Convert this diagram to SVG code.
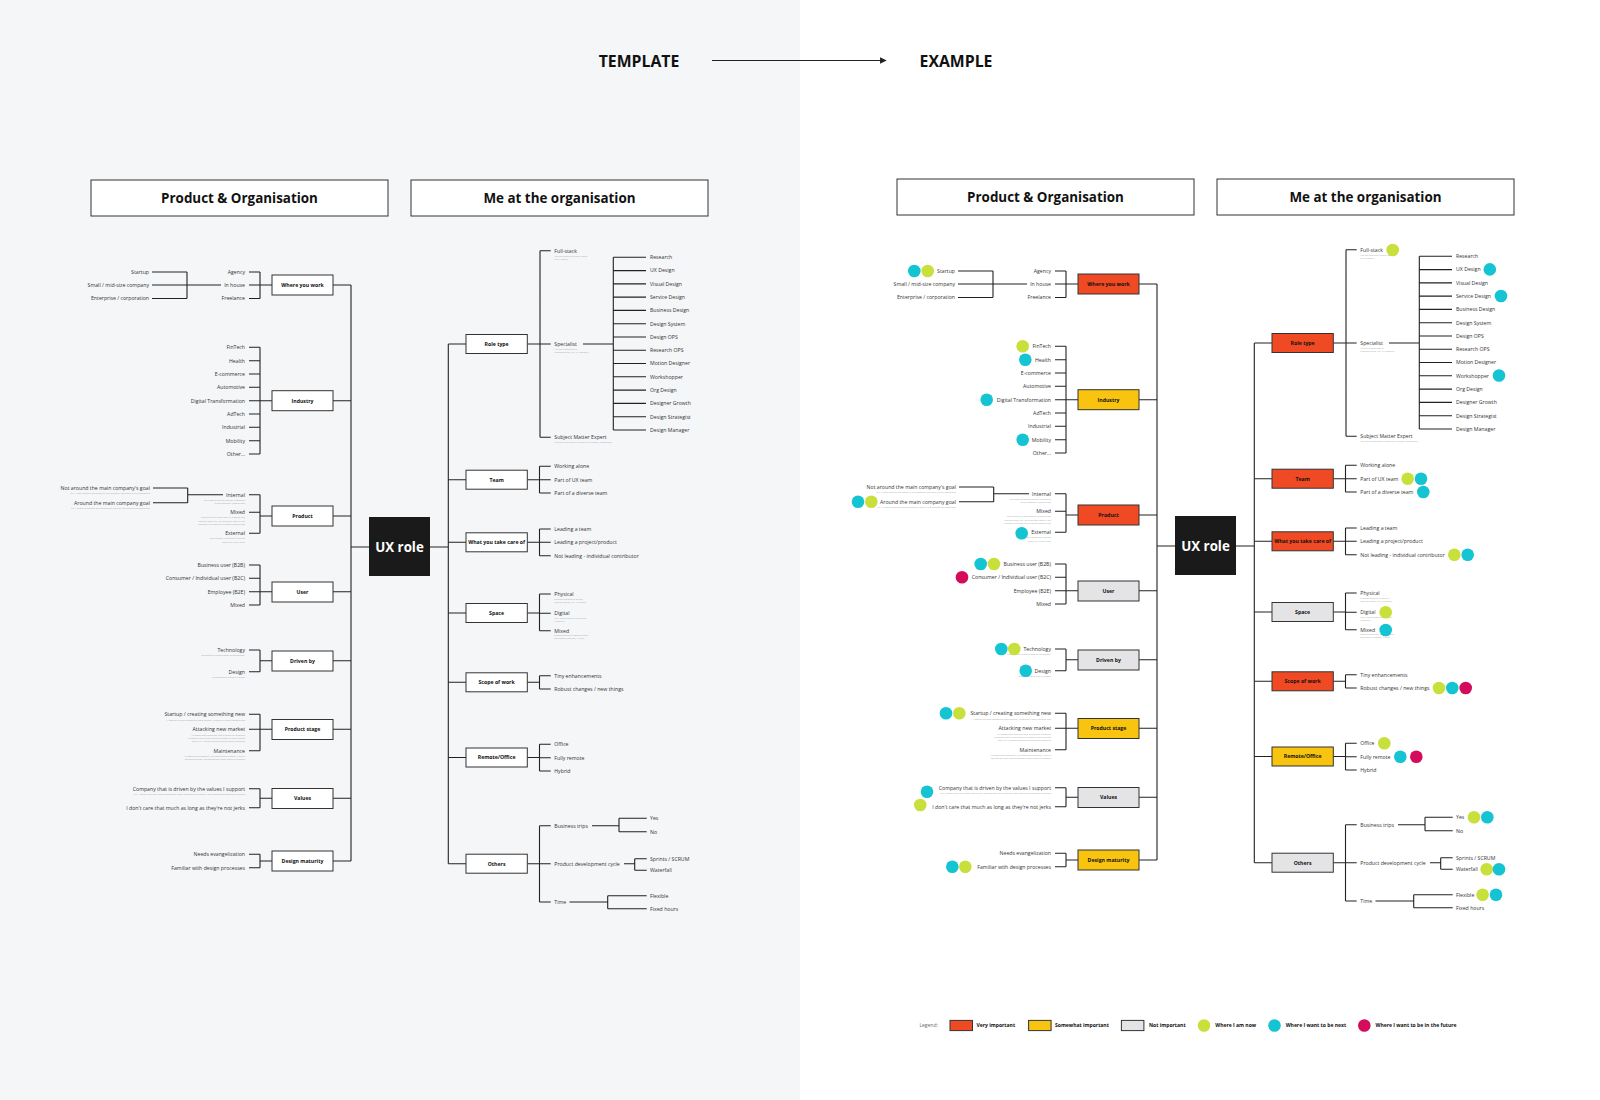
<svg xmlns="http://www.w3.org/2000/svg" width="1600" height="1100" viewBox="0 0 1600 1100">
<defs>
<style>
.t{font-family:"Open Sans","Liberation Sans",sans-serif;font-size:5.2px;fill:#333}
.e{text-anchor:end}
.s{font-family:"Open Sans","Liberation Sans",sans-serif;font-size:2.3px;fill:#a8a8a8}
.bl{font-family:"Open Sans","Liberation Sans",sans-serif;font-size:5.2px;font-weight:700;fill:#111;text-anchor:middle}
.hd{font-family:"Open Sans","Liberation Sans",sans-serif;font-size:13.4px;font-weight:700;fill:#111;text-anchor:middle}
.ti{font-family:"Open Sans","Liberation Sans",sans-serif;font-size:15.8px;font-weight:700;fill:#111;text-anchor:middle}
.ux{font-family:"Open Sans","Liberation Sans",sans-serif;font-size:13.3px;font-weight:700;fill:#fff;text-anchor:middle}
.box{fill:#fff;stroke:#333;stroke-width:1}
.red{fill:#f04a24}.yel{fill:#f8c40f}.gry{fill:#e4e4e6}
.ln{stroke:#222;stroke-width:1.1;fill:none}
.cy{fill:#14c4d2}.li{fill:#c9df3b}.mg{fill:#d50c5c}
.lg{font-family:"Open Sans","Liberation Sans",sans-serif;font-size:5.05px;font-weight:700;fill:#111}
</style>
<marker id="ah" viewBox="0 0 10 10" refX="9" refY="5" markerWidth="6" markerHeight="6" orient="auto"><path d="M0,0 L10,5 L0,10 z" fill="#222"/></marker>
</defs>
<rect x="0" y="0" width="1600" height="1100" fill="#fff"/>
<rect x="0" y="0" width="800" height="1100" fill="#f5f6f8"/>

<g id="titles">
<text class="ti" x="639" y="66.5">TEMPLATE</text>
<text class="ti" x="956" y="66.5">EXAMPLE</text>
<path class="ln" d="M712,60.5 H886" marker-end="url(#ah)"/>
</g>

<!-- ================= TEMPLATE ================= -->
<g id="template">
<g id="t-connectors">
<path class="ln" d="M249,272H260M249,285H260M249,298.5H260M260,272V298.5M260,285H272M152,272H187M152,285H187M152,298.5H187M187,272V298.5M187,285H221M333,285H351"/>
<path class="ln" d="M249,347.3H260M249,360.7H260M249,374H260M249,387.3H260M249,400.7H260M249,414H260M249,427.3H260M249,440.7H260M249,454H260M260,347.3V454M260,400.7H272M333,400.7H351"/>
<path class="ln" d="M249,494.7H260M249,512.3H260M249,533.3H260M260,494.7V533.3M260,516H272M333,516H351M153,488H187.7M153,502.7H187.7M187.7,488V502.7M187.7,494.7H223"/>
<path class="ln" d="M249,565H260M249,578.3H260M249,591.7H260M249,605H260M260,565V605M260,591.7H272M333,591.7H351"/>
<path class="ln" d="M249,650H260M249,671.7H260M260,650V671.7M260,660.7H272M333,660.7H351"/>
<path class="ln" d="M249,714.3H260M249,729.3H260M249,750.7H260M260,714.3V750.7M260,729.3H272M333,729.3H351"/>
<path class="ln" d="M249,788.7H260M249,807.7H260M260,788.7V807.7M260,798.3H272M333,798.3H351"/>
<path class="ln" d="M249,854.3H260M249,867.7H260M260,854.3V867.7M260,861H272M333,861H351"/>
<path class="ln" d="M351,285V861M351,547H369M430,547H448.3M448.3,344V863.7"/>
<path class="ln" d="M448.3,344H466M527.3,344H540M540,250.7V437.3M540,250.7H550.7M540,344H550.7M540,437.3H550.7M583,344H613.3M613.3,257.3V430M613.3,257.3H646M613.3,270.6H646M613.3,283.9H646M613.3,297.1H646M613.3,310.4H646M613.3,323.7H646M613.3,337H646M613.3,350.3H646M613.3,363.5H646M613.3,376.8H646M613.3,390.1H646M613.3,403.4H646M613.3,416.7H646M613.3,430H646"/>
<path class="ln" d="M448.3,479.7H466M527.3,479.7H539.5M539.5,466.3V493M539.5,466.3H550.7M539.5,479.7H550.7M539.5,493H550.7"/>
<path class="ln" d="M448.3,542.3H466M527.3,542.3H539.5M539.5,529V555.7M539.5,529H550.7M539.5,542.3H550.7M539.5,555.7H550.7"/>
<path class="ln" d="M448.3,613H466M527.3,613H539.5M539.5,594V630.7M539.5,594H550.7M539.5,613.3H550.7M539.5,630.7H550.7"/>
<path class="ln" d="M448.3,682.3H466M527.3,682.3H539.5M539.5,675.7V689M539.5,675.7H550.7M539.5,689H550.7"/>
<path class="ln" d="M448.3,757.5H466M527.3,757.5H539.5M539.5,744.3V771M539.5,744.3H550.7M539.5,757.7H550.7M539.5,771H550.7"/>
<path class="ln" d="M448.3,863.7H466M527.3,863.7H539.5M539.5,825.7V902M539.5,825.7H550.7M539.5,863.7H550.7M539.5,902H550.7M592,825.7H619M619,818.3V831.7M619,818.3H646.7M619,831.7H646.7M624,863.7H634.7M634.7,858.7V870.3M634.7,858.7H646.7M634.7,870.3H646.7M569.5,902H607.7M607.7,895.7V908.7M607.7,895.7H646.7M607.7,908.7H646.7"/>
</g>

<g id="t-hdr-product"><rect class="box" x="91" y="180" width="297" height="36"/><text class="hd" x="239.5" y="202.8">Product &amp; Organisation</text></g>
<g id="t-hdr-me"><rect class="box" x="411" y="180" width="297" height="36"/><text class="hd" x="559.5" y="202.8">Me at the organisation</text></g>

<g id="t-uxrole"><rect x="369" y="517" width="61" height="59" fill="#1a1a1a"/><text class="ux" x="399.5" y="551.8">UX role</text></g>

<g id="t-where"><rect class="box" x="272" y="275" width="61" height="20"/><text class="bl" x="302.5" y="286.8">Where you work</text></g>
<g id="t-where-items">
<text class="t e" x="245" y="273.8">Agency</text><text class="t e" x="245" y="286.8">In house</text><text class="t e" x="245" y="300.3">Freelance</text>
<text class="t e" x="149" y="273.8">Startup</text><text class="t e" x="149" y="286.8">Small / mid-size company</text><text class="t e" x="149" y="300.3">Enterprise / corporation</text>
</g>
<g id="t-industry"><rect class="box" x="272" y="390.7" width="61" height="20"/><text class="bl" x="302.5" y="402.5">Industry</text></g>
<g id="t-industry-items">
<text class="t e" x="245" y="349.1">FinTech</text><text class="t e" x="245" y="362.5">Health</text><text class="t e" x="245" y="375.8">E-commerce</text><text class="t e" x="245" y="389.1">Automotive</text><text class="t e" x="245" y="402.5">Digital Transformation</text><text class="t e" x="245" y="415.8">AdTech</text><text class="t e" x="245" y="429.1">Industrial</text><text class="t e" x="245" y="442.5">Mobility</text><text class="t e" x="245" y="455.8">Other...</text>
</g>
<g id="t-product"><rect class="box" x="272" y="506" width="61" height="20"/><text class="bl" x="302.5" y="517.8">Product</text></g>
<g id="t-product-items">
<text class="t e" x="150" y="489.8">Not around the main company's goal</text><text class="s e" x="150" y="494.2">E.g. A time tracking app made by the company and used by the employees</text>
<text class="t e" x="150" y="504.5">Around the main company goal</text><text class="s e" x="150" y="508.8">E.g. An app to manage the warehouse, used by the warehouse employees</text>
<text class="t e" x="245" y="496.5">Internal</text><text class="s e" x="245" y="500.9">The product serves internal customers</text><text class="s e" x="245" y="503.9">of the company (employees)</text>
<text class="t e" x="245" y="514.1">Mixed</text><text class="s e" x="245" y="518.4">The product is used both by external and</text><text class="s e" x="245" y="521.7">internal users. E.g. an audit app used by the</text><text class="s e" x="245" y="525">company's clients and auditors (employees)</text>
<text class="t e" x="245" y="535.1">External</text><text class="s e" x="245" y="539.4">The product is made for external</text><text class="s e" x="245" y="542.7">users. E.g. Uber, Slack</text>
</g>
<g id="t-user"><rect class="box" x="272" y="582" width="61" height="20"/><text class="bl" x="302.5" y="593.5">User</text></g>
<g id="t-user-items">
<text class="t e" x="245" y="566.8">Business user (B2B)</text><text class="t e" x="245" y="580.1">Consumer / Individual user (B2C)</text><text class="t e" x="245" y="593.5">Employee (B2E)</text><text class="t e" x="245" y="606.8">Mixed</text>
</g>
<g id="t-driven"><rect class="box" x="272" y="651" width="61" height="20"/><text class="bl" x="302.5" y="662.5">Driven by</text></g>
<g id="t-driven-items">
<text class="t e" x="245" y="651.8">Technology</text><text class="s e" x="245" y="656.4">Decisions are made based on technology</text>
<text class="t e" x="245" y="673.5">Design</text><text class="s e" x="245" y="677.7">Decisions are driven by design</text>
</g>
<g id="t-stage"><rect class="box" x="272" y="719.5" width="61" height="20"/><text class="bl" x="302.5" y="731.1">Product stage</text></g>
<g id="t-stage-items">
<text class="t e" x="245" y="716.1">Startup / creating something new</text><text class="s e" x="245" y="720.7">A startup building something from scratch, exploring a new business idea</text>
<text class="t e" x="245" y="731.1">Attacking new market</text><text class="s e" x="245" y="735.7">An established company that is about to introduce</text><text class="s e" x="245" y="739">a product into a new market or adopt a new business</text><text class="s e" x="245" y="742.3">area. E.g. Amazon introducing self-serve groceries</text>
<text class="t e" x="245" y="752.5">Maintenance</text><text class="s e" x="245" y="757.1">An established company, an established product. Work is</text><text class="s e" x="245" y="760.4">focused on small improvements rather than big changes</text>
</g>
<g id="t-values"><rect class="box" x="272" y="788.5" width="61" height="20"/><text class="bl" x="302.5" y="800.1">Values</text></g>
<g id="t-values-items">
<text class="t e" x="245" y="790.5">Company that is driven by the values I support</text><text class="s e" x="245" y="794.6">E.g. I deeply care for climate issues and I want to work at a company that introduces ecological products</text>
<text class="t e" x="245" y="809.5">I don't care that much as long as they're not jerks</text>
</g>
<g id="t-maturity"><rect class="box" x="272" y="851" width="61" height="20"/><text class="bl" x="302.5" y="862.8">Design maturity</text></g>
<g id="t-maturity-items">
<text class="t e" x="245" y="856.1">Needs evangelization</text><text class="t e" x="245" y="869.5">Familiar with design processes</text>
</g>

<g id="t-role"><rect class="box" x="466" y="334.5" width="61.3" height="19"/><text class="bl" x="496.6" y="345.8">Role type</text></g>
<g id="t-role-items">
<text class="t" x="554.3" y="252.5">Full-stack</text><text class="s" x="554.3" y="257.1">You get involved in every stage</text><text class="s" x="554.3" y="259.9">of UX design</text>
<text class="t" x="554.3" y="345.8">Specialist</text><text class="s" x="554.3" y="349.9">You are a specialist in</text><text class="s" x="554.3" y="352.7">a focused area, e.g. UX research</text>
<text class="t" x="554.3" y="439.1">Subject Matter Expert</text><text class="s" x="554.3" y="442.9">You are a specialist in a topic (e.g. finance, healthcare)</text>
<text class="t" x="650" y="259.1">Research</text><text class="t" x="650" y="272.4">UX Design</text><text class="t" x="650" y="285.7">Visual Design</text><text class="t" x="650" y="298.9">Service Design</text><text class="t" x="650" y="312.2">Business Design</text><text class="t" x="650" y="325.5">Design System</text><text class="t" x="650" y="338.8">Design OPS</text><text class="t" x="650" y="352.1">Research OPS</text><text class="t" x="650" y="365.3">Motion Designer</text><text class="t" x="650" y="378.6">Workshopper</text><text class="t" x="650" y="391.9">Org Design</text><text class="t" x="650" y="405.2">Designer Growth</text><text class="t" x="650" y="418.5">Design Strategist</text><text class="t" x="650" y="431.8">Design Manager</text>
</g>
<g id="t-team"><rect class="box" x="466" y="470.2" width="61.3" height="19"/><text class="bl" x="496.6" y="481.5">Team</text></g>
<g id="t-team-items"><text class="t" x="554.3" y="468.1">Working alone</text><text class="t" x="554.3" y="481.5">Part of UX team</text><text class="t" x="554.3" y="494.8">Part of a diverse team</text></g>
<g id="t-care"><rect class="box" x="466" y="532.8" width="61.3" height="19"/><text class="bl" x="496.6" y="544.1">What you take care of</text></g>
<g id="t-care-items"><text class="t" x="554.3" y="530.8">Leading a team</text><text class="t" x="554.3" y="544.1">Leading a project/product</text><text class="t" x="554.3" y="557.5">Not leading - individual contributor</text></g>
<g id="t-space"><rect class="box" x="466" y="603.5" width="61.3" height="19"/><text class="bl" x="496.6" y="614.8">Space</text></g>
<g id="t-space-items">
<text class="t" x="554.3" y="595.8">Physical</text><text class="s" x="554.3" y="599.6">Physical product or service</text><text class="s" x="554.3" y="602.5">(service design, e.g. in a hotel)</text>
<text class="t" x="554.3" y="615.1">Digital</text><text class="s" x="554.3" y="618.7">Fully digital product or service</text><text class="s" x="554.3" y="621.6">(Youtube)</text>
<text class="t" x="554.3" y="632.5">Mixed</text><text class="s" x="554.3" y="636.1">Product/service is both physical</text><text class="s" x="554.3" y="639">and digital (Lifesum, Airbnb)</text>
</g>
<g id="t-scope"><rect class="box" x="466" y="672.8" width="61.3" height="19"/><text class="bl" x="496.6" y="684.1">Scope of work</text></g>
<g id="t-scope-items"><text class="t" x="554.3" y="677.5">Tiny enhancements</text><text class="t" x="554.3" y="690.8">Robust changes / new things</text></g>
<g id="t-remote"><rect class="box" x="466" y="748" width="61.3" height="19"/><text class="bl" x="496.6" y="759.3">Remote/Office</text></g>
<g id="t-remote-items"><text class="t" x="554.3" y="746.1">Office</text><text class="t" x="554.3" y="759.5">Fully remote</text><text class="t" x="554.3" y="772.8">Hybrid</text></g>
<g id="t-others"><rect class="box" x="466" y="854.2" width="61.3" height="19"/><text class="bl" x="496.6" y="865.5">Others</text></g>
<g id="t-others-items">
<text class="t" x="554.3" y="827.5">Business trips</text><text class="t" x="554.3" y="865.5">Product development cycle</text><text class="t" x="554.3" y="903.8">Time</text>
<text class="t" x="650" y="820.1">Yes</text><text class="t" x="650" y="833.5">No</text><text class="t" x="650" y="860.5">Sprints / SCRUM</text><text class="t" x="650" y="872.1">Waterfall</text><text class="t" x="650" y="897.5">Flexible</text><text class="t" x="650" y="910.5">Fixed hours</text>
</g>
</g>

<!-- ================= EXAMPLE ================= -->
<g id="example" transform="translate(806,-1)">
<g id="e-connectors">
<path class="ln" d="M249,272H260M249,285H260M249,298.5H260M260,272V298.5M260,285H272M152,272H187M152,285H187M152,298.5H187M187,272V298.5M187,285H221M333,285H351"/>
<path class="ln" d="M249,347.3H260M249,360.7H260M249,374H260M249,387.3H260M249,400.7H260M249,414H260M249,427.3H260M249,440.7H260M249,454H260M260,347.3V454M260,400.7H272M333,400.7H351"/>
<path class="ln" d="M249,494.7H260M249,512.3H260M249,533.3H260M260,494.7V533.3M260,516H272M333,516H351M153,488H187.7M153,502.7H187.7M187.7,488V502.7M187.7,494.7H223"/>
<path class="ln" d="M249,565H260M249,578.3H260M249,591.7H260M249,605H260M260,565V605M260,591.7H272M333,591.7H351"/>
<path class="ln" d="M249,650H260M249,671.7H260M260,650V671.7M260,660.7H272M333,660.7H351"/>
<path class="ln" d="M249,714.3H260M249,729.3H260M249,750.7H260M260,714.3V750.7M260,729.3H272M333,729.3H351"/>
<path class="ln" d="M249,788.7H260M249,807.7H260M260,788.7V807.7M260,798.3H272M333,798.3H351"/>
<path class="ln" d="M249,854.3H260M249,867.7H260M260,854.3V867.7M260,861H272M333,861H351"/>
<path class="ln" d="M351,285V861M351,547H369M430,547H448.3M448.3,344V863.7"/>
<path class="ln" d="M448.3,344H466M527.3,344H540M540,250.7V437.3M540,250.7H550.7M540,344H550.7M540,437.3H550.7M583,344H613.3M613.3,257.3V430M613.3,257.3H646M613.3,270.6H646M613.3,283.9H646M613.3,297.1H646M613.3,310.4H646M613.3,323.7H646M613.3,337H646M613.3,350.3H646M613.3,363.5H646M613.3,376.8H646M613.3,390.1H646M613.3,403.4H646M613.3,416.7H646M613.3,430H646"/>
<path class="ln" d="M448.3,479.7H466M527.3,479.7H539.5M539.5,466.3V493M539.5,466.3H550.7M539.5,479.7H550.7M539.5,493H550.7"/>
<path class="ln" d="M448.3,542.3H466M527.3,542.3H539.5M539.5,529V555.7M539.5,529H550.7M539.5,542.3H550.7M539.5,555.7H550.7"/>
<path class="ln" d="M448.3,613H466M527.3,613H539.5M539.5,594V630.7M539.5,594H550.7M539.5,613.3H550.7M539.5,630.7H550.7"/>
<path class="ln" d="M448.3,682.3H466M527.3,682.3H539.5M539.5,675.7V689M539.5,675.7H550.7M539.5,689H550.7"/>
<path class="ln" d="M448.3,757.5H466M527.3,757.5H539.5M539.5,744.3V771M539.5,744.3H550.7M539.5,757.7H550.7M539.5,771H550.7"/>
<path class="ln" d="M448.3,863.7H466M527.3,863.7H539.5M539.5,825.7V902M539.5,825.7H550.7M539.5,863.7H550.7M539.5,902H550.7M592,825.7H619M619,818.3V831.7M619,818.3H646.7M619,831.7H646.7M624,863.7H634.7M634.7,858.7V870.3M634.7,858.7H646.7M634.7,870.3H646.7M569.5,902H607.7M607.7,895.7V908.7M607.7,895.7H646.7M607.7,908.7H646.7"/>
</g>

<g id="e-hdr-product"><rect class="box" x="91" y="180" width="297" height="36"/><text class="hd" x="239.5" y="202.8">Product &amp; Organisation</text></g>
<g id="e-hdr-me"><rect class="box" x="411" y="180" width="297" height="36"/><text class="hd" x="559.5" y="202.8">Me at the organisation</text></g>

<g id="e-uxrole"><rect x="369" y="517" width="61" height="59" fill="#1a1a1a"/><text class="ux" x="399.5" y="551.8">UX role</text></g>

<g id="e-where"><rect class="box red" x="272" y="275" width="61" height="20"/><text class="bl" x="302.5" y="286.8">Where you work</text></g>
<g id="e-where-items">
<text class="t e" x="245" y="273.8">Agency</text><text class="t e" x="245" y="286.8">In house</text><text class="t e" x="245" y="300.3">Freelance</text>
<text class="t e" x="149" y="273.8">Startup</text><text class="t e" x="149" y="286.8">Small / mid-size company</text><text class="t e" x="149" y="300.3">Enterprise / corporation</text>
</g>
<g id="e-industry"><rect class="box yel" x="272" y="390.7" width="61" height="20"/><text class="bl" x="302.5" y="402.5">Industry</text></g>
<g id="e-industry-items">
<text class="t e" x="245" y="349.1">FinTech</text><text class="t e" x="245" y="362.5">Health</text><text class="t e" x="245" y="375.8">E-commerce</text><text class="t e" x="245" y="389.1">Automotive</text><text class="t e" x="245" y="402.5">Digital Transformation</text><text class="t e" x="245" y="415.8">AdTech</text><text class="t e" x="245" y="429.1">Industrial</text><text class="t e" x="245" y="442.5">Mobility</text><text class="t e" x="245" y="455.8">Other...</text>
</g>
<g id="e-product"><rect class="box red" x="272" y="506" width="61" height="20"/><text class="bl" x="302.5" y="517.8">Product</text></g>
<g id="e-product-items">
<text class="t e" x="150" y="489.8">Not around the main company's goal</text><text class="s e" x="150" y="494.2">E.g. A time tracking app made by the company and used by the employees</text>
<text class="t e" x="150" y="504.5">Around the main company goal</text><text class="s e" x="150" y="508.8">E.g. An app to manage the warehouse, used by the warehouse employees</text>
<text class="t e" x="245" y="496.5">Internal</text><text class="s e" x="245" y="500.9">The product serves internal customers</text><text class="s e" x="245" y="503.9">of the company (employees)</text>
<text class="t e" x="245" y="514.1">Mixed</text><text class="s e" x="245" y="518.4">The product is used both by external and</text><text class="s e" x="245" y="521.7">internal users. E.g. an audit app used by the</text><text class="s e" x="245" y="525">company's clients and auditors (employees)</text>
<text class="t e" x="245" y="535.1">External</text><text class="s e" x="245" y="539.4">The product is made for external</text><text class="s e" x="245" y="542.7">users. E.g. Uber, Slack</text>
</g>
<g id="e-user"><rect class="box gry" x="272" y="582" width="61" height="20"/><text class="bl" x="302.5" y="593.5">User</text></g>
<g id="e-user-items">
<text class="t e" x="245" y="566.8">Business user (B2B)</text><text class="t e" x="245" y="580.1">Consumer / Individual user (B2C)</text><text class="t e" x="245" y="593.5">Employee (B2E)</text><text class="t e" x="245" y="606.8">Mixed</text>
</g>
<g id="e-driven"><rect class="box gry" x="272" y="651" width="61" height="20"/><text class="bl" x="302.5" y="662.5">Driven by</text></g>
<g id="e-driven-items">
<text class="t e" x="245" y="651.8">Technology</text><text class="s e" x="245" y="656.4">Decisions are made based on technology</text>
<text class="t e" x="245" y="673.5">Design</text><text class="s e" x="245" y="677.7">Decisions are driven by design</text>
</g>
<g id="e-stage"><rect class="box yel" x="272" y="719.5" width="61" height="20"/><text class="bl" x="302.5" y="731.1">Product stage</text></g>
<g id="e-stage-items">
<text class="t e" x="245" y="716.1">Startup / creating something new</text><text class="s e" x="245" y="720.7">A startup building something from scratch, exploring a new business idea</text>
<text class="t e" x="245" y="731.1">Attacking new market</text><text class="s e" x="245" y="735.7">An established company that is about to introduce</text><text class="s e" x="245" y="739">a product into a new market or adopt a new business</text><text class="s e" x="245" y="742.3">area. E.g. Amazon introducing self-serve groceries</text>
<text class="t e" x="245" y="752.5">Maintenance</text><text class="s e" x="245" y="757.1">An established company, an established product. Work is</text><text class="s e" x="245" y="760.4">focused on small improvements rather than big changes</text>
</g>
<g id="e-values"><rect class="box gry" x="272" y="788.5" width="61" height="20"/><text class="bl" x="302.5" y="800.1">Values</text></g>
<g id="e-values-items">
<text class="t e" x="245" y="790.5">Company that is driven by the values I support</text><text class="s e" x="245" y="794.6">E.g. I deeply care for climate issues and I want to work at a company that introduces ecological products</text>
<text class="t e" x="245" y="809.5">I don't care that much as long as they're not jerks</text>
</g>
<g id="e-maturity"><rect class="box yel" x="272" y="851" width="61" height="20"/><text class="bl" x="302.5" y="862.8">Design maturity</text></g>
<g id="e-maturity-items">
<text class="t e" x="245" y="856.1">Needs evangelization</text><text class="t e" x="245" y="869.5">Familiar with design processes</text>
</g>

<g id="e-role"><rect class="box red" x="466" y="334.5" width="61.3" height="19"/><text class="bl" x="496.6" y="345.8">Role type</text></g>
<g id="e-role-items">
<text class="t" x="554.3" y="252.5">Full-stack</text><text class="s" x="554.3" y="257.1">You get involved in every stage</text><text class="s" x="554.3" y="259.9">of UX design</text>
<text class="t" x="554.3" y="345.8">Specialist</text><text class="s" x="554.3" y="349.9">You are a specialist in</text><text class="s" x="554.3" y="352.7">a focused area, e.g. UX research</text>
<text class="t" x="554.3" y="439.1">Subject Matter Expert</text><text class="s" x="554.3" y="442.9">You are a specialist in a topic (e.g. finance, healthcare)</text>
<text class="t" x="650" y="259.1">Research</text><text class="t" x="650" y="272.4">UX Design</text><text class="t" x="650" y="285.7">Visual Design</text><text class="t" x="650" y="298.9">Service Design</text><text class="t" x="650" y="312.2">Business Design</text><text class="t" x="650" y="325.5">Design System</text><text class="t" x="650" y="338.8">Design OPS</text><text class="t" x="650" y="352.1">Research OPS</text><text class="t" x="650" y="365.3">Motion Designer</text><text class="t" x="650" y="378.6">Workshopper</text><text class="t" x="650" y="391.9">Org Design</text><text class="t" x="650" y="405.2">Designer Growth</text><text class="t" x="650" y="418.5">Design Strategist</text><text class="t" x="650" y="431.8">Design Manager</text>
</g>
<g id="e-team"><rect class="box red" x="466" y="470.2" width="61.3" height="19"/><text class="bl" x="496.6" y="481.5">Team</text></g>
<g id="e-team-items"><text class="t" x="554.3" y="468.1">Working alone</text><text class="t" x="554.3" y="481.5">Part of UX team</text><text class="t" x="554.3" y="494.8">Part of a diverse team</text></g>
<g id="e-care"><rect class="box red" x="466" y="532.8" width="61.3" height="19"/><text class="bl" x="496.6" y="544.1">What you take care of</text></g>
<g id="e-care-items"><text class="t" x="554.3" y="530.8">Leading a team</text><text class="t" x="554.3" y="544.1">Leading a project/product</text><text class="t" x="554.3" y="557.5">Not leading - individual contributor</text></g>
<g id="e-space"><rect class="box gry" x="466" y="603.5" width="61.3" height="19"/><text class="bl" x="496.6" y="614.8">Space</text></g>
<g id="e-space-items">
<text class="t" x="554.3" y="595.8">Physical</text><text class="s" x="554.3" y="599.6">Physical product or service</text><text class="s" x="554.3" y="602.5">(service design, e.g. in a hotel)</text>
<text class="t" x="554.3" y="615.1">Digital</text><text class="s" x="554.3" y="618.7">Fully digital product or service</text><text class="s" x="554.3" y="621.6">(Youtube)</text>
<text class="t" x="554.3" y="632.5">Mixed</text><text class="s" x="554.3" y="636.1">Product/service is both physical</text><text class="s" x="554.3" y="639">and digital (Lifesum, Airbnb)</text>
</g>
<g id="e-scope"><rect class="box red" x="466" y="672.8" width="61.3" height="19"/><text class="bl" x="496.6" y="684.1">Scope of work</text></g>
<g id="e-scope-items"><text class="t" x="554.3" y="677.5">Tiny enhancements</text><text class="t" x="554.3" y="690.8">Robust changes / new things</text></g>
<g id="e-remote"><rect class="box yel" x="466" y="748" width="61.3" height="19"/><text class="bl" x="496.6" y="759.3">Remote/Office</text></g>
<g id="e-remote-items"><text class="t" x="554.3" y="746.1">Office</text><text class="t" x="554.3" y="759.5">Fully remote</text><text class="t" x="554.3" y="772.8">Hybrid</text></g>
<g id="e-others"><rect class="box gry" x="466" y="854.2" width="61.3" height="19"/><text class="bl" x="496.6" y="865.5">Others</text></g>
<g id="e-others-items">
<text class="t" x="554.3" y="827.5">Business trips</text><text class="t" x="554.3" y="865.5">Product development cycle</text><text class="t" x="554.3" y="903.8">Time</text>
<text class="t" x="650" y="820.1">Yes</text><text class="t" x="650" y="833.5">No</text><text class="t" x="650" y="860.5">Sprints / SCRUM</text><text class="t" x="650" y="872.1">Waterfall</text><text class="t" x="650" y="897.5">Flexible</text><text class="t" x="650" y="910.5">Fixed hours</text>
</g>

<g id="e-dots">
<circle class="cy" cx="108.3" cy="272" r="6.3"/><circle class="li" cx="121.7" cy="272" r="6.3"/>
<circle class="li" cx="216.7" cy="347.3" r="6.3"/>
<circle class="cy" cx="219.3" cy="360.7" r="6.3"/>
<circle class="cy" cx="180.7" cy="400.7" r="6.3"/>
<circle class="cy" cx="216.7" cy="440.7" r="6.3"/>
<circle class="cy" cx="52" cy="502.7" r="6.3"/><circle class="li" cx="65.3" cy="502.7" r="6.3"/>
<circle class="cy" cx="215.7" cy="534.3" r="6.3"/>
<circle class="cy" cx="174.7" cy="565" r="6.3"/><circle class="li" cx="188" cy="565" r="6.3"/>
<circle class="mg" cx="156" cy="578.3" r="6.3"/>
<circle class="cy" cx="195.3" cy="650" r="6.3"/><circle class="li" cx="208.3" cy="650" r="6.3"/>
<circle class="cy" cx="219.7" cy="671.7" r="6.3"/>
<circle class="cy" cx="140" cy="714.3" r="6.3"/><circle class="li" cx="153.3" cy="714.3" r="6.3"/>
<circle class="cy" cx="121" cy="792.7" r="6.3"/>
<circle class="li" cx="114.3" cy="806" r="6.3"/>
<circle class="cy" cx="146.3" cy="867.7" r="6.3"/><circle class="li" cx="159.3" cy="867.7" r="6.3"/>
<circle class="li" cx="586.7" cy="251" r="6.3"/>
<circle class="cy" cx="683.8" cy="270.4" r="6.3"/>
<circle class="cy" cx="695" cy="297" r="6.3"/>
<circle class="cy" cx="693" cy="376.5" r="6.3"/>
<circle class="li" cx="601.7" cy="479.7" r="6.3"/><circle class="cy" cx="615" cy="479.7" r="6.3"/>
<circle class="cy" cx="617.3" cy="493" r="6.3"/>
<circle class="li" cx="648.3" cy="555.7" r="6.3"/><circle class="cy" cx="661.7" cy="555.7" r="6.3"/>
<circle class="li" cx="579.7" cy="613.3" r="6.3"/>
<circle class="cy" cx="579.7" cy="631" r="6.3"/>
<circle class="li" cx="633" cy="689" r="6.3"/><circle class="cy" cx="646.3" cy="689" r="6.3"/><circle class="mg" cx="659.7" cy="689" r="6.3"/>
<circle class="li" cx="578.3" cy="744.3" r="6.3"/>
<circle class="cy" cx="594.3" cy="757.7" r="6.3"/><circle class="mg" cx="610.3" cy="757.7" r="6.3"/>
<circle class="li" cx="668" cy="818.3" r="6.3"/><circle class="cy" cx="681.3" cy="818.3" r="6.3"/>
<circle class="li" cx="680.7" cy="870.3" r="6.3"/><circle class="cy" cx="693" cy="870.3" r="6.3"/>
<circle class="li" cx="676.6" cy="895.7" r="6.3"/><circle class="cy" cx="690" cy="895.7" r="6.3"/>
</g>
</g>

<g id="legend">
<text x="919.4" y="1027.3" font-family="Open Sans, Liberation Sans, sans-serif" font-size="5" fill="#666">Legend:</text>
<rect class="box red" x="950" y="1020.4" width="22.5" height="10.2"/><text class="lg" x="976.5" y="1027.3">Very important</text>
<rect class="box yel" x="1028.6" y="1020.4" width="22.5" height="10.2"/><text class="lg" x="1055" y="1027.3">Somewhat important</text>
<rect class="box gry" x="1121.4" y="1020.4" width="22.5" height="10.2"/><text class="lg" x="1149" y="1027.3">Not important</text>
<circle class="li" cx="1204" cy="1025.5" r="6.3"/><text class="lg" x="1215.3" y="1027.3">Where I am now</text>
<circle class="cy" cx="1274.5" cy="1025.5" r="6.3"/><text class="lg" x="1285.7" y="1027.3">Where I want to be next</text>
<circle class="mg" cx="1364.3" cy="1025.5" r="6.3"/><text class="lg" x="1375.5" y="1027.3">Where I want to be in the future</text>
</g>
</svg>
